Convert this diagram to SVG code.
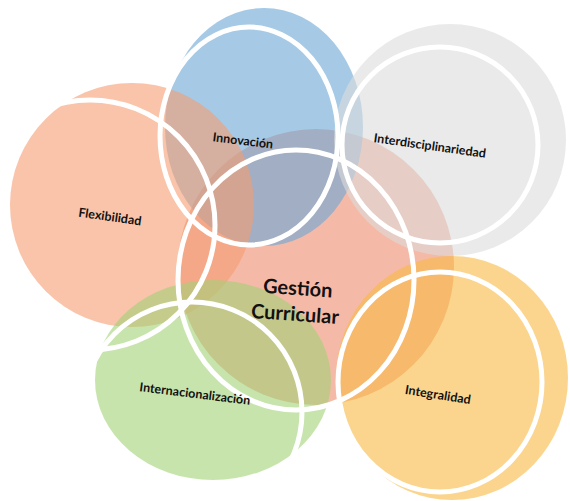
<svg xmlns="http://www.w3.org/2000/svg" width="570" height="501" viewBox="0 0 570 501">
<style>
.f{fill-opacity:0.6;stroke:none}
.r{fill:none;stroke:#ffffff;stroke-width:5}
.t{font-family:Lato,"Liberation Sans",Arial,sans-serif;font-weight:bold;fill:#111111;text-anchor:middle}
.s{font-size:12.5px}
.b{font-size:20px}
</style>
<rect width="570" height="501" fill="#ffffff"/>
<g id="fills">
<circle id="fill-center" class="f" cx="316" cy="267" r="138" fill="#ef8c6c"/>
<ellipse id="fill-innovacion" class="f" cx="264" cy="127" rx="99" ry="119" fill="#6aa6d6"/>
<circle id="fill-flexibilidad" class="f" cx="132" cy="205" r="122" fill="#f59d72"/>
<circle id="fill-interdisciplinariedad" class="f" cx="450" cy="140" r="116" fill="#dcdcdc"/>
<ellipse id="fill-internacionalizacion" class="f" cx="213" cy="380" rx="118" ry="100" fill="#a2d276"/>
<ellipse id="fill-integralidad" class="f" cx="452" cy="378" rx="116" ry="122" fill="#f8b943"/>
</g>
<g id="rings">
<ellipse class="r" cx="296" cy="280" rx="118" ry="130"/>
<ellipse class="r" cx="249" cy="136" rx="89" ry="109"/>
<circle class="r" cx="90" cy="225" r="125"/>
<circle class="r" cx="440" cy="145" r="98"/>
<circle class="r" cx="192" cy="412" r="110"/>
<ellipse class="r" cx="440" cy="382" rx="102" ry="110"/>
</g>
<g id="node-innovacion"><text class="t s" x="243" y="145" transform="rotate(7 243 140)">Innovación</text></g>
<g id="node-interdisciplinariedad"><text class="t s" x="430" y="150" transform="rotate(8 430 145)">Interdisciplinariedad</text></g>
<g id="node-flexibilidad"><text class="t s" x="110" y="221" transform="rotate(8 110 216)">Flexibilidad</text></g>
<g id="node-gestion"><text class="t b" transform="rotate(4 296 300)"><tspan x="297" y="295">Gestión</tspan><tspan x="296" y="321">Curricular</tspan></text></g>
<g id="node-internacionalizacion"><text class="t s" x="195" y="398" transform="rotate(7 195 393)">Internacionalización</text></g>
<g id="node-integralidad"><text class="t s" x="438" y="399" transform="rotate(9 438 394)">Integralidad</text></g>
</svg>
